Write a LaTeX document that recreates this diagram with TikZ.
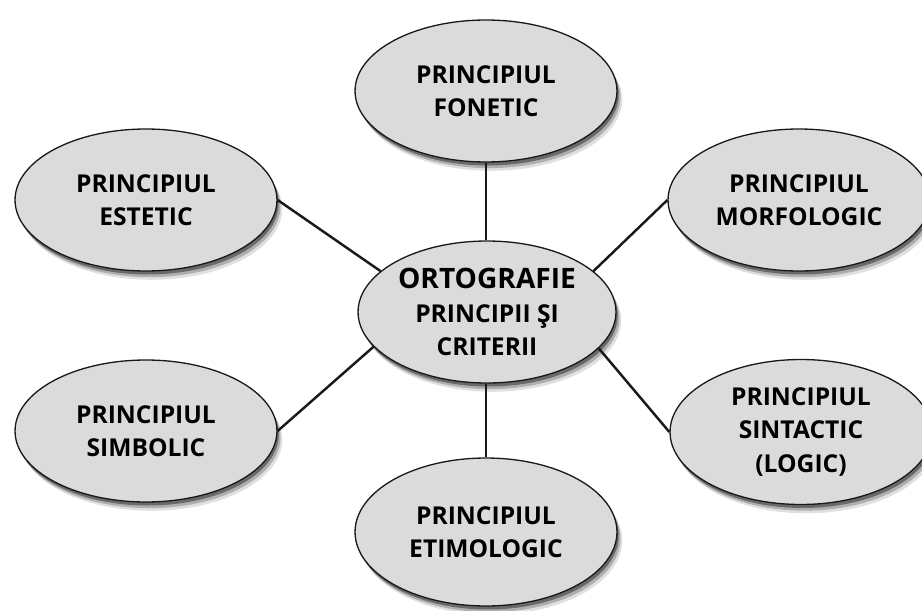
\documentclass[tikz,border=0pt]{standalone}
\usepackage{fontspec}
\setmainfont{Open Sans}
\usetikzlibrary{shapes.geometric,shadows}

\begin{document}
\begin{tikzpicture}[x=0.02cm, y=-0.02cm,
	principle/.style={ellipse, draw=black!90, line width=0.75pt, fill=black!14,
		minimum width=5.24cm, minimum height=2.84cm, inner sep=0pt, align=center,
		font=\fontsize{14}{19}\selectfont\bfseries,
		drop shadow={shadow xshift=3pt, shadow yshift=-5pt, opacity=0.12, fill=black},
		drop shadow={shadow xshift=2pt, shadow yshift=-3.5pt, opacity=0.22, fill=black},
		drop shadow={shadow xshift=1pt, shadow yshift=-2pt, opacity=0.4, fill=black}},
	link/.style={line width=1.4pt, draw=black!90}]
	\useasboundingbox (0,0) rectangle (922,611);
	% centre
	\node[principle, minimum width=5.16cm] (centru) at (487,312)
		{{\fontsize{16}{19}\selectfont ORTOGRAFIE}\\PRINCIPII ŞI\\CRITERII};
	% principles round it
	\node[principle] (fonetic) at (486,91) {PRINCIPIUL\\FONETIC};
	\node[principle] (estetic) at (146,200) {PRINCIPIUL\\ESTETIC};
	\node[principle] (morfologic) at (799,200) {PRINCIPIUL\\MORFOLOGIC};
	\node[principle] (simbolic) at (146,431) {PRINCIPIUL\\SIMBOLIC};
	\node[principle, minimum height=2.9cm] (sintactic) at (801,432) {PRINCIPIUL\\SINTACTIC\\(LOGIC)};
	\node[principle, minimum height=2.96cm] (etimologic) at (486,532) {PRINCIPIUL\\ETIMOLOGIC};
	% connectors
	\draw[link] (fonetic) -- (fonetic |- centru.north);
	\draw[link] (etimologic) -- (etimologic |- centru.south);
	\foreach \n/\a in {estetic.east/159, morfologic.west/21, simbolic.east/197, sintactic.west/342}
		\draw[link] (\n) -- (centru.\a);
\end{tikzpicture}
\end{document}
